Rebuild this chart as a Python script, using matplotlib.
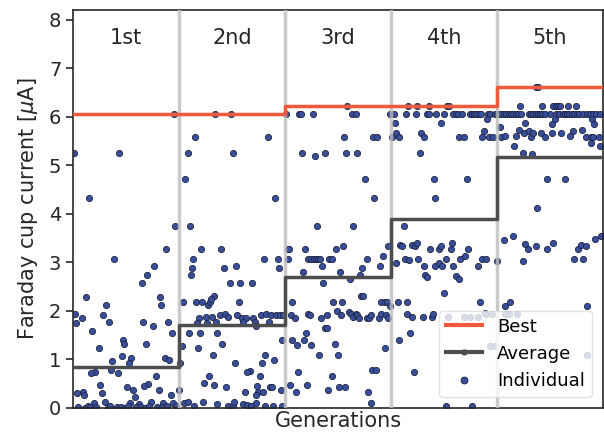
import numpy as np
import matplotlib
matplotlib.use("Agg")
import matplotlib.pyplot as plt
from matplotlib.lines import Line2D

# Generation summary (uA)
gen_labels = ["1st", "2nd", "3rd", "4th", "5th"]
best = [6.05, 6.05, 6.22, 6.22, 6.62]
average = [0.85, 1.71, 2.70, 3.90, 5.17]

# Individuals per generation: position (individual no., 0-100) and current
gen1_pos = [1, 43, 15, 95, 96, 88, 39, 76, 70, 65, 12, 82, 83, 31, 2, 28, 8, 34, 66, 90,
            3, 75, 18, 93, 47, 48, 69, 24, 46, 55, 87, 91, 37, 53, 36, 21, 17, 42, 78, 25,
            71, 67, 51, 57, 81, 27, 4, 9, 10, 58, 92, 20, 30, 85, 94, 74, 54, 62,
            5, 11, 14, 16, 22, 33, 35, 41, 45, 49, 52, 59, 64, 68, 72, 79, 84, 89, 97]
gen1_val = [5.25, 5.25, 4.32, 6.05, 3.74, 3.27, 3.07, 2.93, 2.74, 2.58, 2.29, 2.29, 2.13, 2.13,
            1.94, 1.91, 1.86, 1.78, 1.78, 1.78, 1.74, 1.68, 1.58, 1.55, 1.40, 1.31, 1.31, 1.23,
            1.06, 1.02, 1.02, 0.98, 0.96, 0.92, 0.78, 0.73, 0.71, 0.71, 0.65, 0.48, 0.50, 0.45,
            0.43, 0.36, 0.36, 0.30, 0.30, 0.32, 0.27, 0.23, 0.27, 0.11, 0.12, 0.10, 0.11, 0.12,
            0.10, 0.08, 0.02, 0.0, 0.03, 0.01, 0.02, 0.0, 0.03, 0.01, 0.02, 0.0, 0.03, 0.01,
            0.02, 0.0, 0.03, 0.01, 0.02, 0.04, 0.03]

gen2_pos = [15, 84, 8, 51, 6, 91, 10, 34, 49, 21, 40, 13, 80, 93, 12, 42, 94, 54, 11, 48,
            58, 69, 33, 4, 16, 22, 27, 29, 30, 57, 19, 25, 31, 39, 43, 46, 55, 59, 63, 70,
            77, 82, 87, 92, 95, 17, 26, 35, 60, 72, 85, 73, 9, 20, 36, 3, 41, 18, 32, 81,
            78, 90, 53, 1, 67, 64, 28, 76, 24, 33, 44, 74, 86, 88, 96, 62, 75, 79, 73, 0,
            97, 98, 5, 8, 14, 23, 36, 46, 51, 52, 60, 64, 68, 73, 81, 89, 97]
gen2_val = [5.59, 5.59, 5.25, 5.25, 4.71, 4.32, 3.74, 6.05, 6.05, 3.27, 3.27, 3.07, 3.07, 3.07,
            2.89, 2.89, 2.89, 2.93, 2.74, 2.58, 2.58, 2.58, 2.30, 2.18, 2.18, 2.18, 2.13, 2.18,
            2.24, 2.18, 1.86, 1.88, 1.88, 1.91, 1.94, 1.88, 1.91, 1.86, 1.86, 1.86, 1.91, 1.94,
            1.91, 1.91, 1.91, 1.75, 1.75, 1.78, 1.78, 1.78, 1.78, 1.68, 1.54, 1.55, 1.55, 1.28,
            1.31, 1.23, 1.08, 1.08, 0.93, 0.98, 0.93, 0.93, 0.76, 0.73, 0.65, 0.65, 0.52, 0.47,
            0.43, 0.45, 0.43, 0.43, 0.36, 0.32, 0.32, 0.32, 0.27, 0.36, 1.40, 1.91, 0.11, 0.13,
            0.03, 0.13, 0.08, 0.03, 0.03, 0.13, 0.08, 0.06, 0.03, 0.10, 0.03, 0.03, 0.03]

gen3_pos = [59, 1, 13, 15, 26, 63, 67, 99, 56, 83, 87, 16, 28, 38, 58, 68, 76, 84, 30, 64,
            3, 4, 19, 48, 55, 97, 3, 22, 25, 27, 29, 31, 33, 42, 44, 77, 93, 35, 73, 90,
            17, 52, 71, 61, 36, 72, 74, 7, 45, 54, 91, 94, 96, 49, 22, 24, 6, 9, 34, 40,
            53, 60, 62, 64, 67, 68, 70, 77, 79, 81, 89, 91, 95, 97, 99, 38, 40, 20, 7, 18,
            11, 25, 47, 50, 32, 94, 82, 86, 12, 44, 5, 21, 10, 41, 51, 57, 78, 81]
gen3_val = [6.23, 6.05, 6.05, 6.05, 6.05, 6.05, 6.05, 6.05, 5.59, 5.59, 5.59, 5.25, 5.20, 5.25,
            5.25, 5.25, 4.71, 4.32, 3.74, 3.74, 3.27, 3.27, 3.27, 3.27, 3.34, 3.34, 3.07, 3.07,
            3.07, 3.07, 3.07, 3.07, 3.07, 3.07, 3.07, 3.07, 3.14, 2.93, 2.89, 2.93, 2.79, 2.79,
            2.74, 2.66, 2.58, 2.30, 2.30, 2.18, 2.18, 2.18, 2.18, 2.18, 2.18, 2.00, 1.94, 1.91,
            1.91, 1.86, 1.86, 1.91, 1.91, 1.97, 1.94, 1.88, 1.94, 1.91, 1.86, 1.86, 1.86, 1.91,
            1.86, 1.94, 1.91, 1.86, 2.09, 1.64, 1.64, 1.55, 1.40, 1.40, 1.29, 1.29, 1.31, 1.09,
            1.08, 1.23, 0.78, 0.78, 0.73, 0.65, 0.47, 0.47, 0.32, 0.36, 0.43, 0.43, 0.32, 0.10]

gen4_pos = [16, 25, 36, 53, 55,
            3, 14, 24, 34, 36, 43, 50, 59, 61, 63, 67, 75, 77, 78, 80, 83, 85, 92, 94, 98,
            4, 47, 91, 88, 1, 5, 8, 28, 31, 64, 69, 86, 93, 96,
            27, 41, 72, 42, 12, 9, 10, 20, 23, 25, 37, 45, 47, 57, 58, 73, 13, 17, 26, 31,
            42, 45, 48, 52, 59, 65, 70, 82, 86, 90, 5, 32, 34, 61, 64, 50, 7, 15, 84, 15,
            20, 30, 39, 40, 90, 54, 69, 75, 82, 89, 95, 94, 98, 18, 8, 22, 52, 77]
gen4_val = [6.23, 6.23, 6.23, 6.23, 6.23,
            6.05, 6.05, 6.05, 6.05, 6.05, 6.05, 6.05, 6.05, 6.05, 6.05, 6.05, 6.05, 6.05, 6.05,
            6.05, 6.05, 6.05, 6.05, 6.05, 6.05,
            5.87, 5.87, 5.96, 5.71, 5.59, 5.66, 5.59, 5.66, 5.59, 5.59, 5.59, 5.59, 5.59, 5.59,
            5.25, 4.71, 4.71, 4.32, 3.74, 3.35, 3.33, 3.35, 3.33, 3.39, 3.27, 3.27, 3.34, 3.27,
            3.39, 3.27, 3.07, 3.04, 3.07, 2.93, 2.93, 2.98, 2.93, 3.07, 2.93, 3.07, 3.14, 2.93,
            3.07, 3.07, 2.98, 2.74, 2.69, 2.71, 2.66, 2.36, 2.18, 2.18, 2.18, 1.94, 1.88, 1.88,
            1.88, 1.94, 1.94, 1.88, 1.88, 1.88, 1.88, 1.95, 1.94, 1.28, 1.28, 1.55, 1.40, 0.73,
            0.03, 0.03]

gen5_pos = [37, 39, 22, 43, 53, 56, 58, 60, 67, 75,
            0, 2, 4, 7, 9, 11, 13, 15, 18, 20, 23, 30, 32, 34, 37, 39, 41, 43, 45, 50, 56, 59,
            62, 64, 66, 68, 71, 73, 76, 78, 81, 85, 88, 91, 94, 97,
            90, 92, 55, 52, 27,
            3, 4, 8, 18, 21, 26, 30, 32, 34, 42, 45, 52, 61, 69, 72, 80, 84, 89, 91, 96,
            16, 89, 97, 25, 33, 47, 64, 38, 7, 15, 27, 29, 37, 47, 53, 77, 79, 84, 73, 81,
            25, 93, 98, 8, 12, 85, 0, 8, 11, 19, 85]
gen5_val = [6.62, 6.62, 6.23, 6.23, 6.23, 6.23, 6.23, 6.23, 6.23, 6.23,
            6.05, 6.05, 6.05, 6.05, 6.05, 6.05, 6.05, 6.05, 6.05, 6.05, 6.05, 6.05, 6.05, 6.05,
            6.05, 6.05, 6.05, 6.05, 6.05, 6.05, 6.05, 6.05, 6.05, 6.05, 6.05, 6.05, 6.05, 6.05,
            6.05, 6.05, 6.05, 6.05, 6.05, 6.05, 6.05, 6.05,
            5.95, 5.85, 5.95, 5.85, 5.87,
            5.78, 5.59, 5.61, 5.61, 5.73, 5.66, 5.71, 5.59, 5.66, 5.66, 5.59, 5.66, 5.66, 5.61,
            5.71, 5.73, 5.59, 5.59, 5.59, 5.59,
            5.39, 5.46, 5.39, 5.25, 5.23, 4.71, 4.71, 4.12, 3.46, 3.55, 3.37, 3.27, 3.34, 3.27,
            3.39, 3.27, 3.36, 3.34, 3.07, 3.07, 3.02, 3.48, 3.55, 2.10, 2.18, 2.10, 3.02, 1.94,
            1.94, 1.94, 1.08]

gen_pos = [gen1_pos, gen2_pos, gen3_pos, gen4_pos, gen5_pos]
gen_val = [gen1_val, gen2_val, gen3_val, gen4_val, gen5_val]

best_color = "#f0593a"
avg_color = "#4d4d4d"
pt_color = "#3a4f9c"

fig = plt.figure(figsize=(6.04, 4.33), dpi=100)
ax = fig.add_axes([0.121, 0.058, 0.877, 0.919])

for g in range(5):
    x = g + np.array(gen_pos[g]) / 100.0
    ax.scatter(x, gen_val[g], s=20, color=pt_color, edgecolor="#1c2340",
               linewidth=0.6, zorder=2)

for g in range(1, 5):
    ax.axvline(g, color="#bdbdbd", lw=2.5, alpha=0.8, zorder=3)

xs = np.arange(6)
ax.step(xs, best + [best[-1]], where="post", color=best_color, lw=2.5, zorder=4)
ax.step(xs, average + [average[-1]], where="post", color=avg_color, lw=2.5, zorder=4)

for g, lab in enumerate(gen_labels):
    ax.text(g + 0.5, 7.63, lab, ha="center", va="center", fontsize=15, color="#262626")

ax.set_xlim(0, 5)
ax.set_ylim(0, 8.2)
ax.set_xticks([])
ax.set_yticks(range(9))
ax.tick_params(axis="y", labelsize=14, length=5, width=1.2, colors="#262626")
ax.set_ylabel(r"Faraday cup current [$\mu$A]", fontsize=15, color="#262626", labelpad=6)
ax.set_xlabel("Generations", fontsize=15, color="#262626", labelpad=2)
for sp in ax.spines.values():
    sp.set_color("#262626")
    sp.set_linewidth(1.2)

handles = [
    Line2D([], [], color=best_color, lw=3),
    Line2D([], [], color=avg_color, lw=3, marker="o", markersize=3.5),
    Line2D([], [], color=pt_color, lw=0, marker="o", markersize=5,
           markeredgecolor="#1c2340", markeredgewidth=0.6),
]
leg = ax.legend(handles, ["Best", "Average", "Individual"], loc="lower right",
                fontsize=13, framealpha=0.8, borderaxespad=0.6, handlelength=2.0)
leg.get_frame().set_edgecolor("#dddddd")
leg.set_zorder(10)

fig.savefig("out.png", dpi=100)
